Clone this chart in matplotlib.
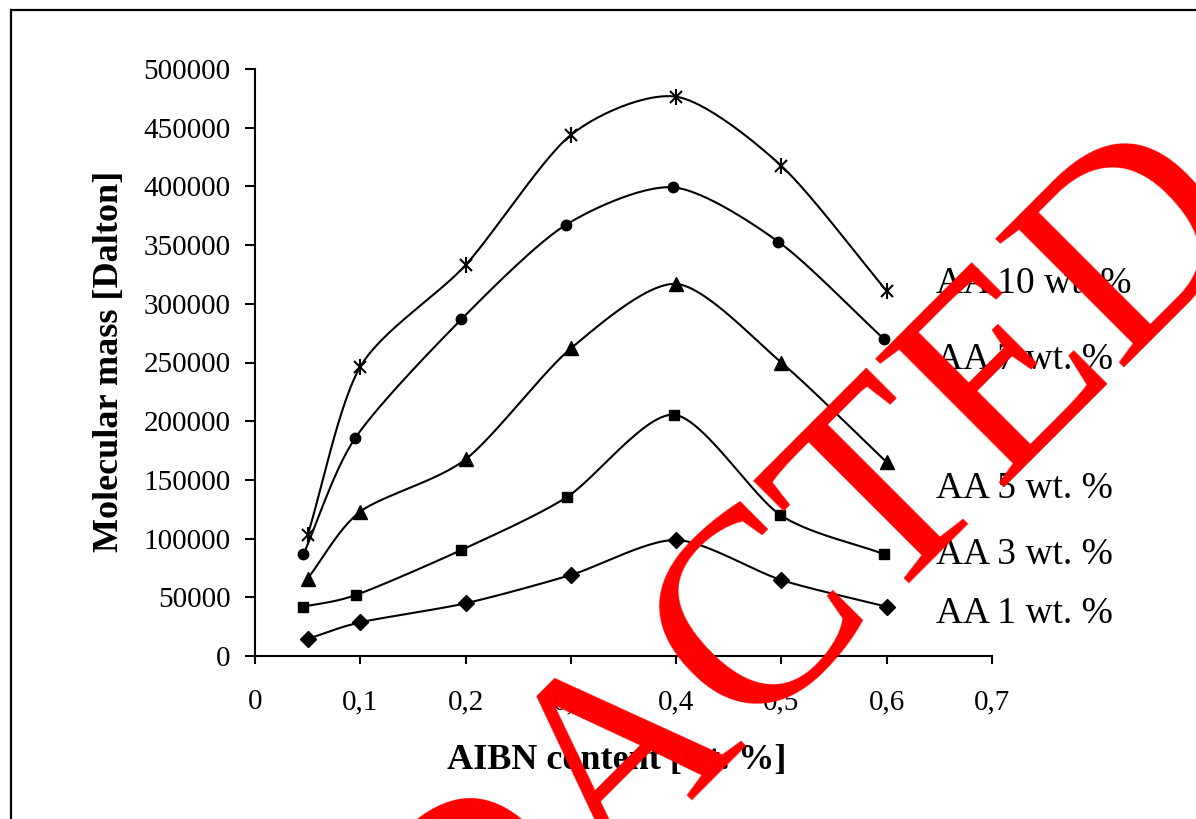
import numpy as np
import matplotlib
matplotlib.use("Agg")
import matplotlib.pyplot as plt
from matplotlib.lines import Line2D

# ---- data ----
x_aa1 = [0.05, 0.10, 0.20, 0.30, 0.40, 0.50, 0.60]
y_aa1 = [14500, 28700, 44900, 69000, 98800, 64700, 42000]
x_aa3 = [0.046, 0.096, 0.196, 0.296, 0.398, 0.499, 0.597]
y_aa3 = [42000, 52000, 90300, 135200, 205500, 120100, 86900]
x_aa5 = [0.05, 0.10, 0.20, 0.30, 0.40, 0.50, 0.60]
y_aa5 = [66000, 123000, 167500, 262000, 316900, 249900, 165000]
x_aa7 = [0.046, 0.095, 0.196, 0.295, 0.397, 0.497, 0.597]
y_aa7 = [86600, 185400, 286800, 367100, 399200, 352900, 270300]
x_aa10 = [0.05, 0.10, 0.20, 0.30, 0.40, 0.50, 0.60]
y_aa10 = [103000, 246400, 333000, 443800, 476400, 417400, 310900]

series_labels = ["AA 1 wt. %", "AA 3 wt. %", "AA 5 wt. %", "AA 7 wt. %", "AA 10 wt. %"]
x_ticks = [0, 0.1, 0.2, 0.3, 0.4, 0.5, 0.6, 0.7]
x_tick_labels = ["0", "0,1", "0,2", "0,3", "0,4", "0,5", "0,6", "0,7"]
y_ticks = [0, 50000, 100000, 150000, 200000, 250000, 300000, 350000, 400000, 450000, 500000]

SERIF = ["Liberation Serif", "DejaVu Serif"]
W, H = 1196, 819
fig = plt.figure(figsize=(W / 100, H / 100), dpi=100)
ax = fig.add_axes([255 / W, 1 - 656 / H, (992 - 255) / W, (656 - 69) / H])


def smooth(xs, ys, sx=1053.0, sy=117.4e-5, n=30, tension=0.8):
    """Cardinal-spline smoothing in (approx.) pixel space."""
    P = np.column_stack([np.asarray(xs) * sx, np.asarray(ys) * sy])
    P = np.vstack([P[0] - (P[1] - P[0]), P, P[-1] + (P[-1] - P[-2])])
    out = []
    t = np.linspace(0, 1, n)[:, None]
    h00 = 2 * t ** 3 - 3 * t ** 2 + 1
    h10 = t ** 3 - 2 * t ** 2 + t
    h01 = -2 * t ** 3 + 3 * t ** 2
    h11 = t ** 3 - t ** 2
    for i in range(1, len(P) - 2):
        p0, p1, p2, p3 = P[i - 1], P[i], P[i + 1], P[i + 2]
        m1 = tension * 0.5 * (p2 - p0)
        m2 = tension * 0.5 * (p3 - p1)
        seg = h00 * p1 + h10 * m1 + h01 * p2 + h11 * m2
        out.append(seg if i == 1 else seg[1:])
    S = np.vstack(out)
    return S[:, 0] / sx, S[:, 1] / sy


lw = 1.5
for xs, ys in [(x_aa1, y_aa1), (x_aa3, y_aa3), (x_aa5, y_aa5), (x_aa7, y_aa7), (x_aa10, y_aa10)]:
    sxs, sys_ = smooth(xs, ys)
    ax.plot(sxs, sys_, color="black", lw=lw, zorder=2)

ax.plot(x_aa1, y_aa1, ls="none", marker="D", ms=8.5, color="black", zorder=3)
ax.plot(x_aa3, y_aa3, ls="none", marker="s", ms=7.6, color="black", zorder=3)
ax.plot(x_aa5, y_aa5, ls="none", marker="^", ms=10, color="black", zorder=3)
ax.plot(x_aa7, y_aa7, ls="none", marker="o", ms=7.5, color="black", zorder=3)
ax.plot(x_aa10, y_aa10, ls="none", marker="x", ms=9, mew=1.5, color="black", zorder=3)
ax.plot(x_aa10, y_aa10, ls="none", marker="|", ms=11, mew=1.5, color="black", zorder=3)

ax.set_xlim(0, 0.7)
ax.set_ylim(0, 500000)
ax.set_xticks(x_ticks)
ax.set_xticklabels(x_tick_labels)
ax.set_yticks(y_ticks)
ax.set_yticklabels([str(v) for v in y_ticks])
for s in ["top", "right"]:
    ax.spines[s].set_visible(False)
for s in ["left", "bottom"]:
    ax.spines[s].set_linewidth(1.5)
ax.tick_params(axis="y", direction="out", length=7, width=1.5, pad=10.5, labelsize=21)
ax.tick_params(axis="x", direction="out", length=6, width=1.5, pad=18, labelsize=21)
for lab in ax.get_xticklabels() + ax.get_yticklabels():
    lab.set_family(SERIF)

fig.text(110 / W, 1 - 361 / H, "Molecular mass [Dalton]", rotation=90, ha="center", va="center",
         fontsize=26, fontweight="bold", family=SERIF)
fig.text(617 / W, 1 - 760 / H, "AIBN content [wt. %]", ha="center", va="center",
         fontsize=26, fontweight="bold", family=SERIF)

label_y = [614, 555, 489, 360, 284]
for lab, yy in zip(series_labels, label_y):
    fig.text(936 / W, 1 - yy / H, lab, ha="left", va="center", fontsize=27, family=SERIF)

# outer frame (top and left edges visible)
fig.add_artist(Line2D([11 / W, 1.0], [1 - 10 / H, 1 - 10 / H], color="black", lw=1.6, transform=fig.transFigure))
fig.add_artist(Line2D([11 / W, 11 / W], [0.0, 1 - 10 / H], color="black", lw=1.6, transform=fig.transFigure))

# watermark stamp
fig.text(735 / W, 1 - 749 / H, "REDACTED", rotation=45, rotation_mode="anchor", ha="center", va="baseline",
         fontsize=200, color="#ff0000", family=SERIF, zorder=10)

fig.savefig("out.png", dpi=100)
